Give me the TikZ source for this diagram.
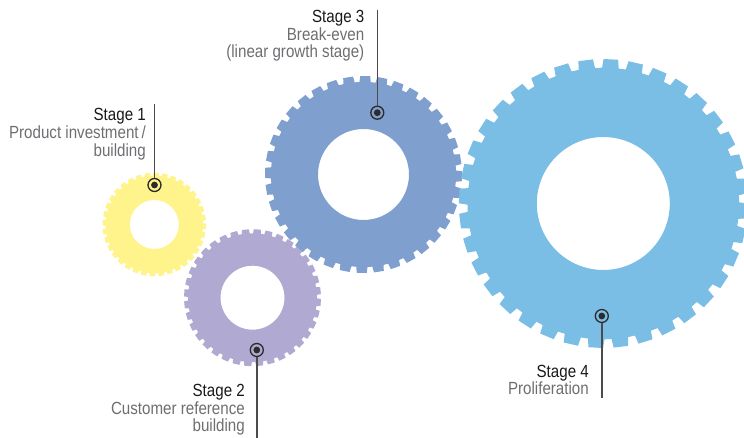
\documentclass[tikz,border=0pt]{standalone}
\usepackage{fontspec}
\setmainfont{Liberation Sans}[FakeStretch=0.86]
\definecolor{gyellow}{HTML}{FFF38C}
\definecolor{gpurple}{HTML}{B0AAD2}
\definecolor{gblue}{HTML}{7F9FCF}
\definecolor{glight}{HTML}{7ABDE5}
\definecolor{lead}{HTML}{2B2B2B}
\definecolor{desc}{HTML}{6D6E71}
\newcommand\drawgear[6]{%
  \begin{scope}[shift={(#2,#3)}]
    \pgfmathsetmacro\rroot{#4*0.94}
    \fill[#1, even odd rule] ({#6-3.5}:\rroot)
      \foreach \i in {0,...,35}{
        -- ({\i*10+#6-3.5}:\rroot) -- ({\i*10+#6-2.9}:#4)
        -- ({\i*10+#6+2.9}:#4) -- ({\i*10+#6+3.5}:\rroot)
      } -- cycle
      (0,0) circle[radius=#5];
  \end{scope}}
\begin{document}
\begin{tikzpicture}[x=1pt,y=-1pt,
  ring/.style={circle,draw=lead,line width=1.3pt,minimum size=13pt,inner sep=0pt,
    path picture={\fill[lead] (path picture bounding box.center) circle[radius=3.4pt];}},
  leader/.style={draw=lead!85!white,line width=1.4pt},
  title/.style={anchor=base east,inner sep=0pt,text=black!90,font=\fontsize{17.6}{18}\selectfont},
  info/.style={anchor=base east,inner sep=0pt,text=desc,font=\fontsize{17.6}{18}\selectfont}]
\useasboundingbox (0,0) rectangle (744,438);
% gears
\drawgear{gyellow}{154.3}{224.5}{51.8}{24.5}{2}
\drawgear{gpurple}{252.5}{297.7}{68.5}{32}{4}
\drawgear{gblue}{363.5}{174.5}{98.5}{45.5}{1}
\drawgear{glight}{603.3}{203.5}{144.5}{66.5}{3}
% leader end points
\coordinate (t1) at (154.5,104.5);
\coordinate (t2) at (256.8,438);
\coordinate (t3) at (377.3,10);
\coordinate (t4) at (601.8,398);
% dots
\node[ring] (d1) at (154.5,185) {};
\node[ring] (d2) at (256.8,350) {};
\node[ring] (d3) at (377.3,112.7) {};
\node[ring] (d4) at (601.8,316) {};
\draw[leader] (t1) -- (d1.north);
\draw[leader] (d2.south) -- (t2);
\draw[leader] (t3) -- (d3.north);
\draw[leader] (d4.south) -- (t4);
% labels
\node[title] (s1a) at (146,121) {Stage 1};
\node[info] (s1b) at (146,138.7) {Product investment\,/};
\node[info] (s1c) at (146,156.5) {building};
\node[title] (s2a) at (245,396) {Stage 2};
\node[info] (s2b) at (245,414) {Customer reference};
\node[info] (s2c) at (245,431.7) {building};
\node[title] (s3a) at (364.5,22.7) {Stage 3};
\node[info] (s3b) at (364.5,40.2) {Break-even};
\node[info] (s3c) at (364.5,57.5) {(linear growth stage)};
\node[title] (s4a) at (589,377.7) {Stage 4};
\node[info] (s4b) at (589,394.8) {Proliferation};
\end{tikzpicture}
\end{document}
